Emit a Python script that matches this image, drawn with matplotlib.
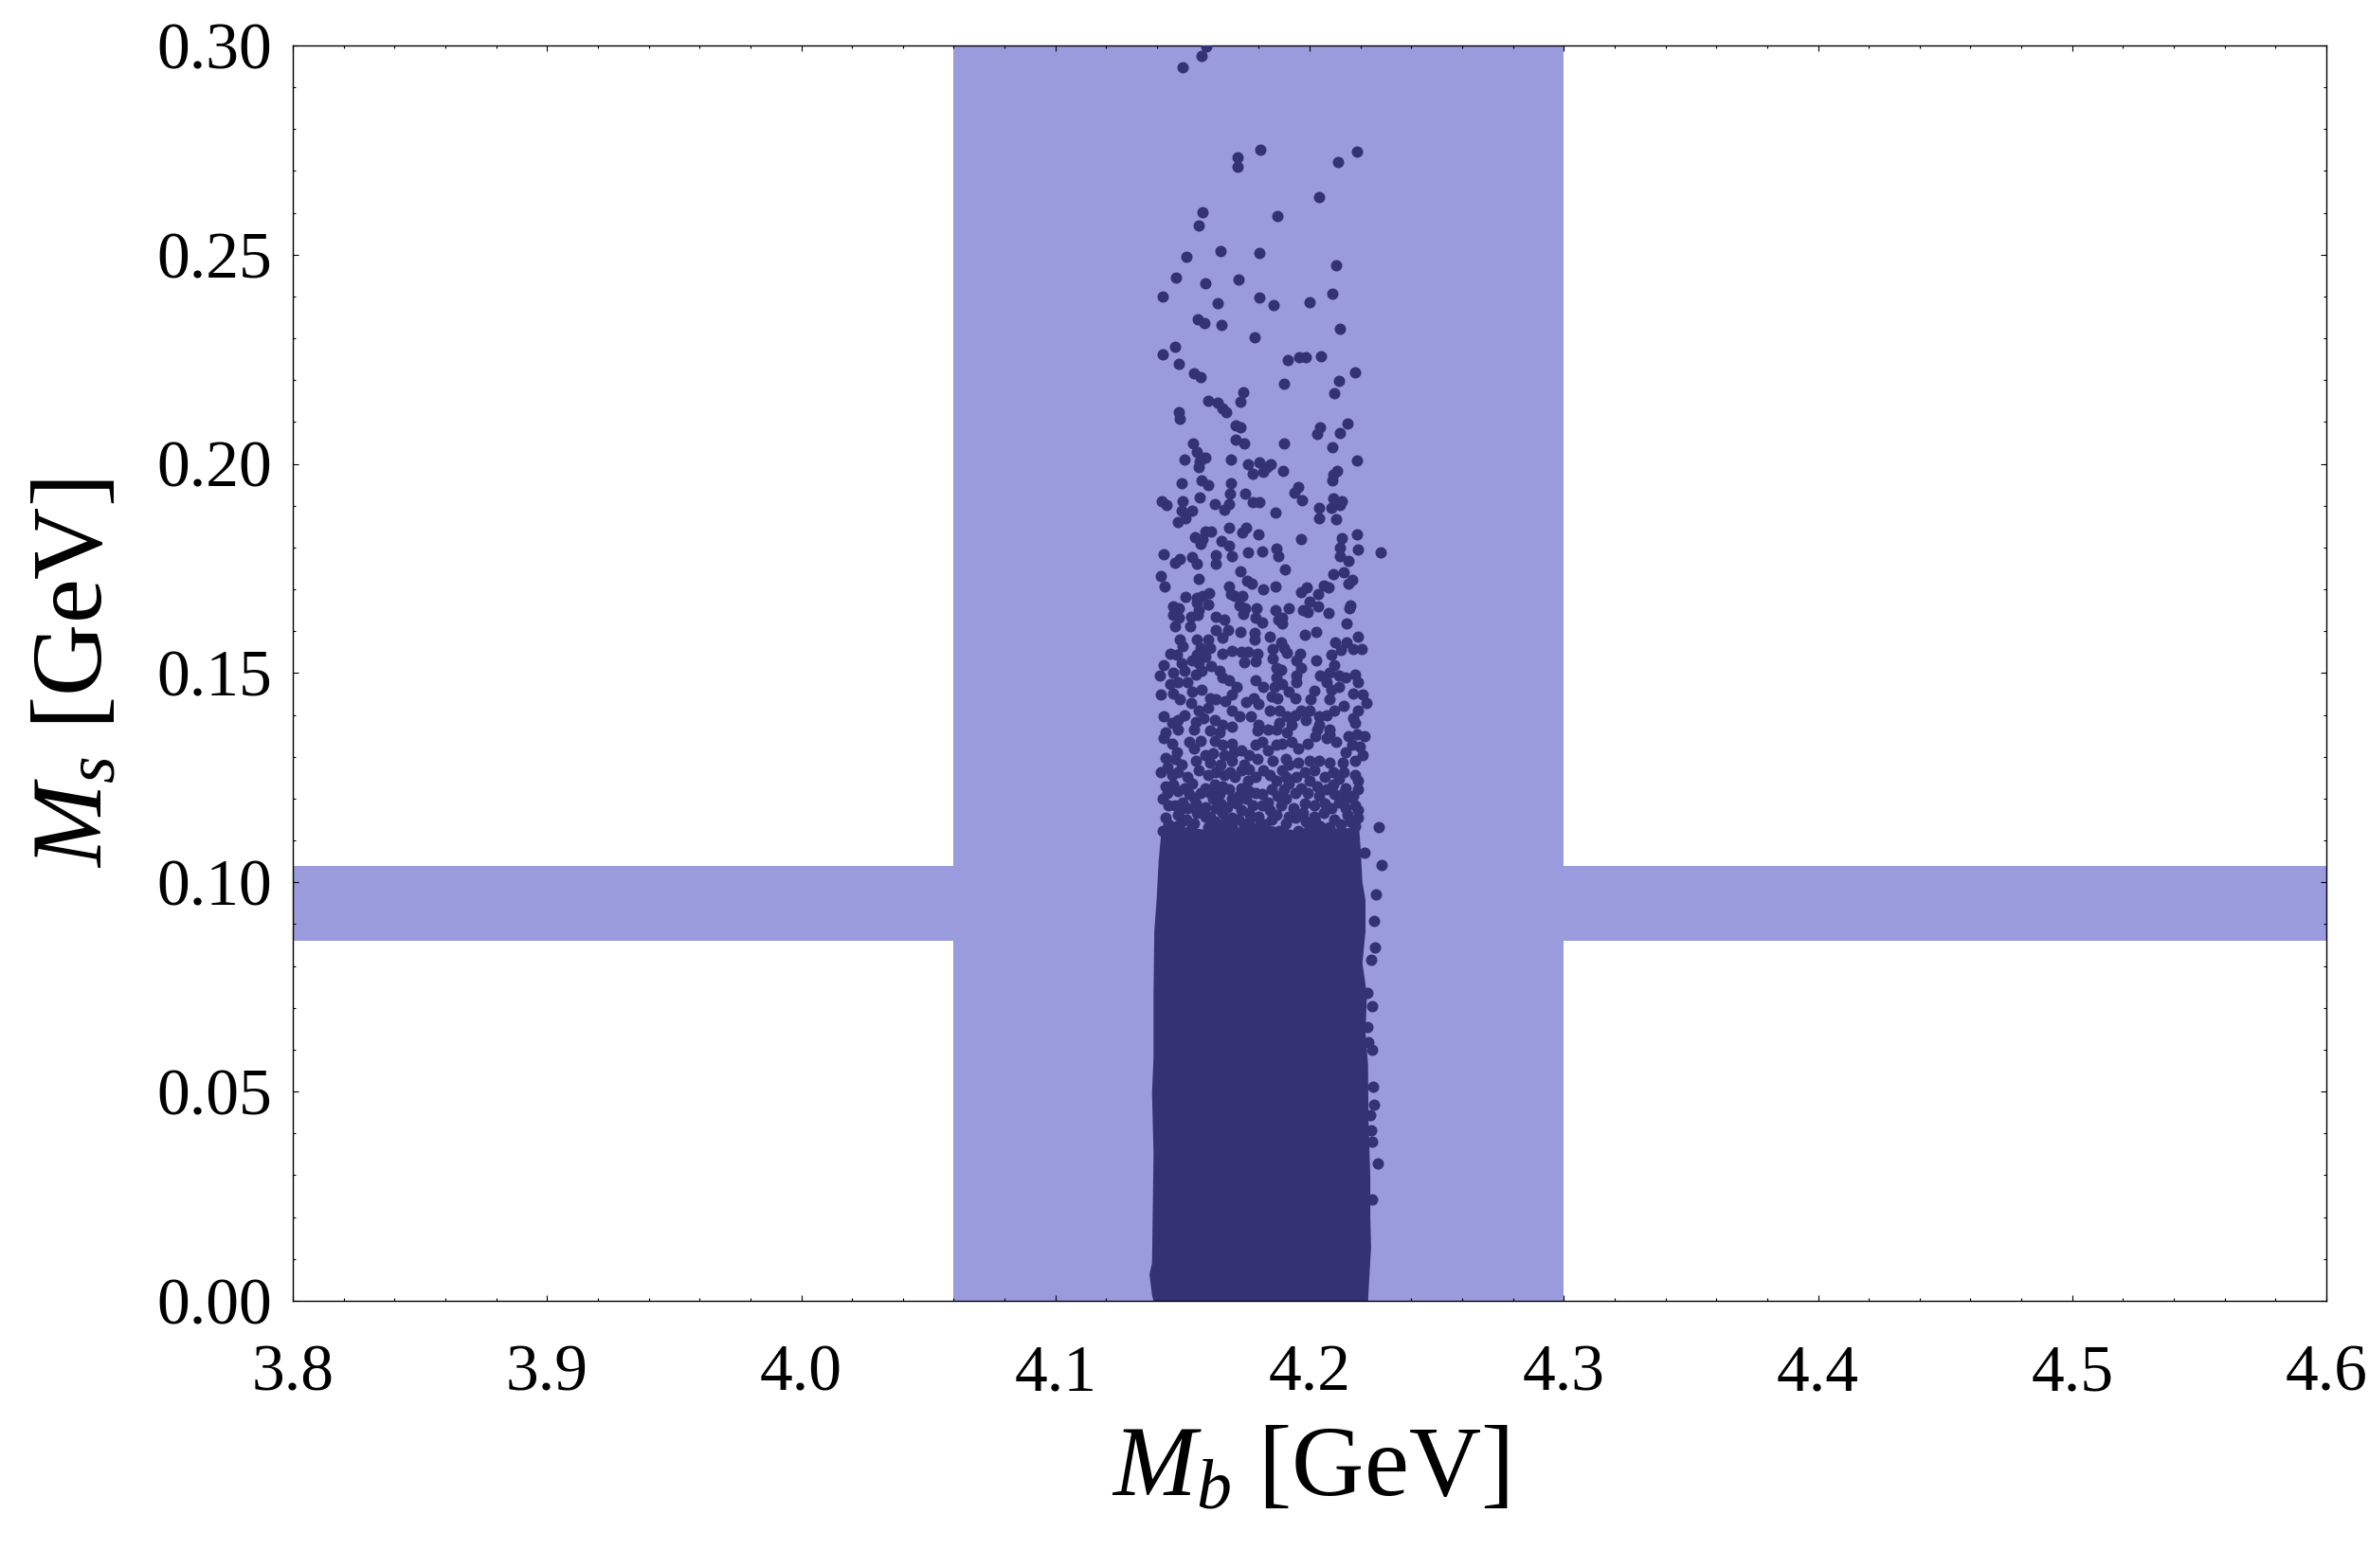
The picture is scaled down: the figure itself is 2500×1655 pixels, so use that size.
import matplotlib
matplotlib.use("Agg")
import matplotlib.pyplot as plt
from matplotlib.ticker import MultipleLocator, FormatStrFormatter
from matplotlib.patches import Polygon

plt.rcParams['font.family'] = ['Liberation Serif', 'DejaVu Serif']
plt.rcParams['mathtext.fontset'] = 'custom'
plt.rcParams['mathtext.rm'] = 'Liberation Serif'
plt.rcParams['mathtext.it'] = 'Liberation Serif:italic'

# allowed bands (GeV)
mb_band = (4.06, 4.30)
ms_band = (0.086, 0.104)

# sparse points, M_s > 0.23
pts_top = [(4.1595, 0.2997), (4.1576, 0.2976), (4.1502, 0.2949), (4.1807, 0.2752),
           (4.1718, 0.2733), (4.1718, 0.2711), (4.2188, 0.2747), (4.2110, 0.2722),
           (4.2038, 0.2638), (4.1580, 0.2601), (4.1874, 0.2593), (4.1565, 0.2570),
           (4.1516, 0.2494), (4.1651, 0.2508), (4.1804, 0.2505), (4.2105, 0.2475),
           (4.1475, 0.2446), (4.1591, 0.2431), (4.1722, 0.2441), (4.1423, 0.2401),
           (4.1639, 0.2385), (4.1804, 0.2398), (4.1859, 0.2380), (4.2001, 0.2387),
           (4.2091, 0.2407), (4.1561, 0.2345), (4.1585, 0.2337), (4.1654, 0.2333),
           (4.2120, 0.2324), (4.1785, 0.2303)]

# 0.16 < M_s < 0.23
pts_upper = [(4.1472, 0.2281), (4.1423, 0.2263), (4.1487, 0.2240), (4.1545, 0.2217),
             (4.1572, 0.2208), (4.1915, 0.2249), (4.1959, 0.2254), (4.1984, 0.2256),
             (4.2046, 0.2258), (4.2180, 0.2219), (4.2117, 0.2198), (4.2098, 0.2170),
             (4.1900, 0.2192), (4.1740, 0.2172), (4.1729, 0.2149), (4.1602, 0.2152),
             (4.1637, 0.2147), (4.1657, 0.2133), (4.1672, 0.2123), (4.1487, 0.2123),
             (4.1490, 0.2109), (4.1710, 0.2091), (4.1727, 0.2088), (4.2042, 0.2088),
             (4.2030, 0.2072), (4.2150, 0.2096), (4.2120, 0.2075), (4.1543, 0.2050),
             (4.1709, 0.2057), (4.1744, 0.2048), (4.1900, 0.2048), (4.2091, 0.2039),
             (4.1557, 0.2029), (4.1509, 0.2011), (4.1567, 0.2007), (4.1590, 0.2016),
             (4.1565, 0.1993), (4.1692, 0.2011), (4.1759, 0.2000), (4.1804, 0.2004),
             (4.1846, 0.1999), (4.1833, 0.1992), (4.1818, 0.1982), (4.1777, 0.1977),
             (4.1897, 0.1984), (4.2188, 0.2009), (4.2107, 0.1983), (4.2092, 0.1974),
             (4.2089, 0.1960), (4.1498, 0.1955), (4.1575, 0.1961), (4.1602, 0.1950),
             (4.1692, 0.1955), (4.1686, 0.1928), (4.1748, 0.1930), (4.1956, 0.1946),
             (4.1940, 0.1932), (4.1970, 0.1914), (4.1420, 0.1910), (4.1436, 0.1901),
             (4.1502, 0.1911), (4.1569, 0.1921), (4.1628, 0.1905), (4.1682, 0.1905),
             (4.1666, 0.1891), (4.1776, 0.1909), (4.1804, 0.1909), (4.1867, 0.1884),
             (4.1498, 0.1889), (4.1539, 0.1889), (4.1513, 0.1871), (4.1483, 0.1860),
             (4.2093, 0.1918), (4.2125, 0.1911), (4.2120, 0.1901), (4.2086, 0.1894),
             (4.2038, 0.1896), (4.2038, 0.1871), (4.2105, 0.1869), (4.1684, 0.1848),
             (4.1751, 0.1848), (4.1736, 0.1837), (4.1800, 0.1832), (4.1968, 0.1821),
             (4.2188, 0.1832), (4.2128, 0.1823), (4.1590, 0.1838), (4.1612, 0.1838),
             (4.1550, 0.1826), (4.1580, 0.1820), (4.1572, 0.1808), (4.1654, 0.1815),
             (4.1684, 0.1805), (4.2120, 0.1801), (4.2191, 0.1795), (4.2281, 0.1789),
             (4.2120, 0.1780), (4.2154, 0.1769), (4.1427, 0.1785), (4.1472, 0.1764),
             (4.1490, 0.1773), (4.1539, 0.1778), (4.1557, 0.1762), (4.1632, 0.1783),
             (4.1632, 0.1762), (4.1695, 0.1780), (4.1759, 0.1789), (4.1812, 0.1791),
             (4.1871, 0.1798), (4.1878, 0.1780), (4.1904, 0.1749), (4.1729, 0.1744),
             (4.1413, 0.1731), (4.1431, 0.1707), (4.1565, 0.1726), (4.1755, 0.1721),
             (4.1774, 0.1715), (4.1818, 0.1701), (4.1867, 0.1708), (4.1684, 0.1708),
             (4.2094, 0.1737), (4.2135, 0.1742), (4.2154, 0.1715), (4.2166, 0.1724),
             (4.2057, 0.1710), (4.2074, 0.1705), (4.2035, 0.1690), (4.1990, 0.1705),
             (4.1968, 0.1694), (4.1999, 0.1671), (4.2035, 0.1660), (4.2076, 0.1643),
             (4.2160, 0.1663), (4.2157, 0.1654), (4.2146, 0.1618), (4.1919, 0.1654),
             (4.1867, 0.1651), (4.1975, 0.1650), (4.1994, 0.1645), (4.1513, 0.1683),
             (4.1557, 0.1681), (4.1580, 0.1685), (4.1606, 0.1692), (4.1602, 0.1665),
             (4.1557, 0.1669), (4.1692, 0.1690), (4.1707, 0.1685), (4.1736, 0.1685),
             (4.1725, 0.1662), (4.1748, 0.1654), (4.1740, 0.1642), (4.1792, 0.1656),
             (4.1789, 0.1633), (4.1815, 0.1620), (4.1878, 0.1627), (4.1893, 0.1632),
             (4.1893, 0.1618), (4.1463, 0.1660), (4.1487, 0.1654), (4.1464, 0.1639),
             (4.1487, 0.1632), (4.1535, 0.1635), (4.1565, 0.1650), (4.1561, 0.1639),
             (4.1632, 0.1635), (4.1666, 0.1627), (4.1531, 0.1613), (4.1472, 0.1611),
             (4.1632, 0.1604), (4.1679, 0.1602), (4.1729, 0.1598), (4.1785, 0.1596),
             (4.2027, 0.1599), (4.1981, 0.1592)]

# 0.128 < M_s < 0.16
pts_mid = [(4.1489, 0.1580), (4.1558, 0.1580), (4.1601, 0.1580), (4.1610, 0.1561),
           (4.1657, 0.1584), (4.1784, 0.1580), (4.1843, 0.1588), (4.1887, 0.1573),
           (4.1899, 0.1561), (4.2102, 0.1573), (4.2145, 0.1573), (4.2189, 0.1588),
           (4.2173, 0.1558), (4.2206, 0.1558), (4.2123, 0.1555), (4.1502, 0.1565),
           (4.1570, 0.1561), (4.1558, 0.1543),
           (4.1452, 0.1546), (4.1477, 0.1543), (4.1427, 0.1520), (4.1496, 0.1524),
           (4.1508, 0.1505), (4.1539, 0.1531), (4.1564, 0.1524), (4.1589, 0.1539),
           (4.1614, 0.1516), (4.1657, 0.1546), (4.1694, 0.1554), (4.1731, 0.1552),
           (4.1756, 0.1552), (4.1794, 0.1546), (4.1744, 0.1525), (4.1788, 0.1528),
           (4.1856, 0.1558), (4.1856, 0.1535), (4.1912, 0.1548), (4.1961, 0.1546),
           (4.1949, 0.1531), (4.1968, 0.1512), (4.2027, 0.1531), (4.2086, 0.1543),
           (4.2098, 0.1520), (4.1868, 0.1512), (4.1887, 0.1509), (4.2080, 0.1501),
           (4.1411, 0.1495), (4.1464, 0.1501), (4.1452, 0.1475), (4.1483, 0.1479),
           (4.1520, 0.1479), (4.1551, 0.1497), (4.1576, 0.1505), (4.1645, 0.1505),
           (4.1657, 0.1490), (4.1682, 0.1482), (4.1713, 0.1467), (4.1788, 0.1482),
           (4.1819, 0.1467), (4.1868, 0.1490), (4.1862, 0.1467), (4.1893, 0.1475),
           (4.1949, 0.1494), (4.1949, 0.1479), (4.2042, 0.1494), (4.2067, 0.1479),
           (4.2117, 0.1494), (4.2142, 0.1490), (4.2179, 0.1497), (4.2191, 0.1479),
           (4.2086, 0.1460), (4.2117, 0.1467),
           (4.1415, 0.1448), (4.1464, 0.1452), (4.1489, 0.1437), (4.1539, 0.1456),
           (4.1576, 0.1460), (4.1607, 0.1441), (4.1632, 0.1437), (4.1669, 0.1433),
           (4.1694, 0.1448), (4.1750, 0.1432), (4.1781, 0.1441), (4.1800, 0.1426),
           (4.1850, 0.1444), (4.1874, 0.1441), (4.1918, 0.1456), (4.1943, 0.1441),
           (4.2005, 0.1437), (4.2017, 0.1457), (4.2080, 0.1437), (4.2098, 0.1411),
           (4.2135, 0.1422), (4.2173, 0.1452), (4.2210, 0.1448), (4.2223, 0.1429),
           (4.2191, 0.1411), (4.1881, 0.1411), (4.1843, 0.1411), (4.1968, 0.1411),
           (4.1999, 0.1411), (4.1533, 0.1429), (4.1564, 0.1411), (4.1601, 0.1418),
           (4.1694, 0.1411),
           (4.1427, 0.1396), (4.1458, 0.1380), (4.1483, 0.1388), (4.1508, 0.1399),
           (4.1551, 0.1384), (4.1582, 0.1392), (4.1626, 0.1388), (4.1657, 0.1377),
           (4.1694, 0.1373), (4.1725, 0.1396), (4.1769, 0.1396), (4.1800, 0.1377),
           (4.1837, 0.1365), (4.1881, 0.1380), (4.1912, 0.1396), (4.1943, 0.1399),
           (4.1930, 0.1377), (4.1986, 0.1388), (4.2036, 0.1396), (4.2067, 0.1399),
           (4.2173, 0.1392), (4.2179, 0.1380), (4.2036, 0.1377), (4.2030, 0.1365),
           (4.2080, 0.1365), (4.1433, 0.1358), (4.1483, 0.1365), (4.1545, 0.1365),
           (4.1607, 0.1362), (4.1645, 0.1358), (4.1794, 0.1362), (4.1868, 0.1365),
           (4.1912, 0.1358),
           (4.1427, 0.1346), (4.1458, 0.1331), (4.1477, 0.1312), (4.1433, 0.1297),
           (4.1471, 0.1294), (4.1527, 0.1335), (4.1545, 0.1320), (4.1570, 0.1339),
           (4.1589, 0.1305), (4.1626, 0.1339), (4.1657, 0.1328), (4.1694, 0.1331),
           (4.1620, 0.1309), (4.1663, 0.1305), (4.1700, 0.1312), (4.1731, 0.1316),
           (4.1763, 0.1305), (4.1788, 0.1328), (4.1812, 0.1335), (4.1837, 0.1316),
           (4.1868, 0.1328), (4.1893, 0.1331), (4.1930, 0.1335), (4.1955, 0.1320),
           (4.1993, 0.1331), (4.2024, 0.1350), (4.2067, 0.1346), (4.2104, 0.1335),
           (4.2080, 0.1354), (4.2154, 0.1350), (4.2185, 0.1354), (4.2216, 0.1350),
           (4.2166, 0.1328), (4.2198, 0.1324), (4.2142, 0.1312), (4.2210, 0.1305),
           (4.1496, 0.1282), (4.1551, 0.1290), (4.1607, 0.1286), (4.1651, 0.1282),
           (4.1694, 0.1290), (4.1744, 0.1282), (4.1794, 0.1294), (4.1856, 0.1290),
           (4.1906, 0.1294), (4.1918, 0.1282), (4.1955, 0.1286), (4.1999, 0.1290),
           (4.2036, 0.1290), (4.2080, 0.1286), (4.2129, 0.1286), (4.2179, 0.1290)]

# 0.112 < M_s < 0.128, just above the saturated core
pts_low = [(4.1415, 0.1263), (4.1440, 0.1275), (4.1483, 0.1263), (4.1433, 0.1229),
           (4.1464, 0.1233), (4.1421, 0.1199), (4.1446, 0.1184), (4.1508, 0.1226),
           (4.1539, 0.1237), (4.1570, 0.1214), (4.1545, 0.1203), (4.1589, 0.1226),
           (4.1626, 0.1233), (4.1657, 0.1229), (4.1688, 0.1263), (4.1707, 0.1252),
           (4.1731, 0.1226), (4.1756, 0.1244), (4.1788, 0.1252), (4.1819, 0.1267),
           (4.1868, 0.1244), (4.1893, 0.1267), (4.1918, 0.1237), (4.1949, 0.1252),
           (4.1968, 0.1226), (4.1999, 0.1244), (4.2030, 0.1229), (4.2061, 0.1252),
           (4.2092, 0.1233), (4.2117, 0.1248), (4.2142, 0.1226), (4.2179, 0.1256),
           (4.2191, 0.1222), (4.1874, 0.1207), (4.1906, 0.1199), (4.1943, 0.1214),
           (4.1837, 0.1192), (4.1812, 0.1184), (4.1788, 0.1214), (4.1750, 0.1199),
           (4.1694, 0.1199), (4.1651, 0.1188), (4.1620, 0.1199), (4.1520, 0.1177),
           (4.1483, 0.1161), (4.1446, 0.1139), (4.1477, 0.1135), (4.1514, 0.1150),
           (4.1558, 0.1165), (4.1589, 0.1158), (4.1626, 0.1146), (4.1657, 0.1165),
           (4.1694, 0.1154), (4.1731, 0.1173), (4.1763, 0.1165), (4.1800, 0.1158),
           (4.1825, 0.1139), (4.1868, 0.1161), (4.1906, 0.1142), (4.1943, 0.1154),
           (4.1974, 0.1165), (4.2017, 0.1158), (4.2055, 0.1165), (4.2086, 0.1177),
           (4.2117, 0.1192), (4.2148, 0.1203), (4.2179, 0.1184), (4.2191, 0.1154),
           (4.2160, 0.1146), (4.2123, 0.1139), (4.2080, 0.1131), (4.2042, 0.1135),
           (4.1999, 0.1131), (4.1955, 0.1124), (4.1881, 0.1124), (4.1781, 0.1127),
           (4.1744, 0.1135), (4.1694, 0.1131), (4.1651, 0.1127), (4.1601, 0.1131),
           (4.1533, 0.1127), (4.1421, 0.1124)]

# more of the same band, filling between the ones above
pts_low2 = [(4.1458, 0.1256), (4.1520, 0.1252), (4.1564, 0.1267), (4.1601, 0.1256),
            (4.1632, 0.1263), (4.1663, 0.1256), (4.1731, 0.1267), (4.1763, 0.1271),
            (4.1843, 0.1256), (4.1906, 0.1252), (4.1980, 0.1263), (4.2017, 0.1267),
            (4.2092, 0.1263), (4.2135, 0.1263), (4.2191, 0.1244),
            (4.1440, 0.1214), (4.1483, 0.1218), (4.1527, 0.1211), (4.1607, 0.1214),
            (4.1645, 0.1211), (4.1682, 0.1222), (4.1719, 0.1207), (4.1763, 0.1218),
            (4.1812, 0.1211), (4.1850, 0.1222), (4.1899, 0.1222), (4.1993, 0.1214),
            (4.2036, 0.1207), (4.2067, 0.1222), (4.2098, 0.1211), (4.2135, 0.1214),
            (4.2173, 0.1207),
            (4.1471, 0.1184), (4.1502, 0.1192), (4.1551, 0.1188), (4.1589, 0.1180),
            (4.1632, 0.1177), (4.1676, 0.1180), (4.1713, 0.1188), (4.1775, 0.1184),
            (4.1843, 0.1173), (4.1887, 0.1184), (4.1937, 0.1177), (4.1980, 0.1188),
            (4.2017, 0.1184), (4.2061, 0.1188), (4.2142, 0.1177), (4.2191, 0.1173),
            (4.1489, 0.1173),
            (4.1433, 0.1154), (4.1496, 0.1146), (4.1545, 0.1142), (4.1607, 0.1158),
            (4.1669, 0.1146), (4.1719, 0.1150), (4.1763, 0.1146), (4.1806, 0.1142),
            (4.1850, 0.1150), (4.1918, 0.1158), (4.1986, 0.1146), (4.2024, 0.1146),
            (4.2098, 0.1150), (4.2148, 0.1161), (4.2179, 0.1135)]

# stragglers on the right of the core
pts_right = [(4.2272, 0.1131), (4.2285, 0.1042), (4.2260, 0.0971), (4.2216, 0.1071),
             (4.2253, 0.0909), (4.2256, 0.0844), (4.2243, 0.0814), (4.2247, 0.0703),
             (4.2247, 0.0599), (4.2250, 0.0512), (4.2253, 0.0469), (4.2268, 0.0328),
             (4.2245, 0.0242), (4.2228, 0.0735), (4.2226, 0.0654), (4.2231, 0.0618),
             (4.2238, 0.0444), (4.2241, 0.0407), (4.2245, 0.0380)]

# outline of the saturated core where the dots merge completely
core_outline = [(4.1390, 0.0), (4.2226, 0.0), (4.2231, 0.0052), (4.2238, 0.0128),
                (4.2235, 0.0203), (4.2235, 0.0294), (4.2228, 0.0430), (4.2226, 0.0565),
                (4.2216, 0.0641), (4.2222, 0.0731), (4.2204, 0.0807), (4.2216, 0.0882),
                (4.2216, 0.0958), (4.2204, 0.1000), (4.2198, 0.1071), (4.2191, 0.1130),
                (4.2120, 0.1125), (4.2030, 0.1134), (4.1940, 0.1122), (4.1850, 0.1132),
                (4.1760, 0.1124), (4.1670, 0.1134), (4.1580, 0.1124), (4.1500, 0.1130),
                (4.1421, 0.1124), (4.1410, 0.1050), (4.1402, 0.0958), (4.1393, 0.0882),
                (4.1390, 0.0731), (4.1390, 0.0580), (4.1384, 0.0497), (4.1390, 0.0354),
                (4.1387, 0.0218), (4.1384, 0.0090), (4.1374, 0.0063), (4.1384, 0.0014)]

band_col = '#9a9bdc'
dot_col = '#323274'

fig = plt.figure(figsize=(25, 16.55), dpi=100)
ax = fig.add_axes([0.1236, 0.1704, 0.8584, 0.8006])

ax.axvspan(mb_band[0], mb_band[1], color=band_col, lw=0, zorder=1)
ax.axhspan(ms_band[0], ms_band[1], color=band_col, lw=0, zorder=1)

ax.add_patch(Polygon(core_outline, closed=True, facecolor=dot_col, edgecolor=dot_col,
                     lw=1.5, zorder=2))
for pts in (pts_top, pts_upper, pts_mid, pts_low, pts_low2, pts_right):
    mb, ms = zip(*pts)
    ax.scatter(mb, ms, s=75, c=dot_col, linewidths=0, zorder=3)

ax.set_xlim(3.8, 4.6)
ax.set_ylim(0, 0.30)
ax.xaxis.set_major_locator(MultipleLocator(0.1))
ax.xaxis.set_minor_locator(MultipleLocator(0.02))
ax.yaxis.set_major_locator(MultipleLocator(0.05))
ax.yaxis.set_minor_locator(MultipleLocator(0.01))
ax.xaxis.set_major_formatter(FormatStrFormatter('%.1f'))
ax.yaxis.set_major_formatter(FormatStrFormatter('%.2f'))

ax.tick_params(which='both', direction='in', top=True, right=True, labelsize=50, width=0.8)
ax.tick_params(which='major', length=4)
ax.tick_params(which='minor', length=2.3)
ax.tick_params(axis='y', which='major', pad=16)
ax.tick_params(axis='x', which='major', pad=33)
for sp in ax.spines.values():
    sp.set_linewidth(1.0)

ax.set_xlabel(r'$M_b$ [GeV]', fontsize=76)
ax.set_ylabel(r'$M_s$ [GeV]', fontsize=76)
ax.xaxis.set_label_coords(0.5, -0.1)
ax.yaxis.set_label_coords(-0.083, 0.5)

fig.savefig('out.png', dpi=100)
